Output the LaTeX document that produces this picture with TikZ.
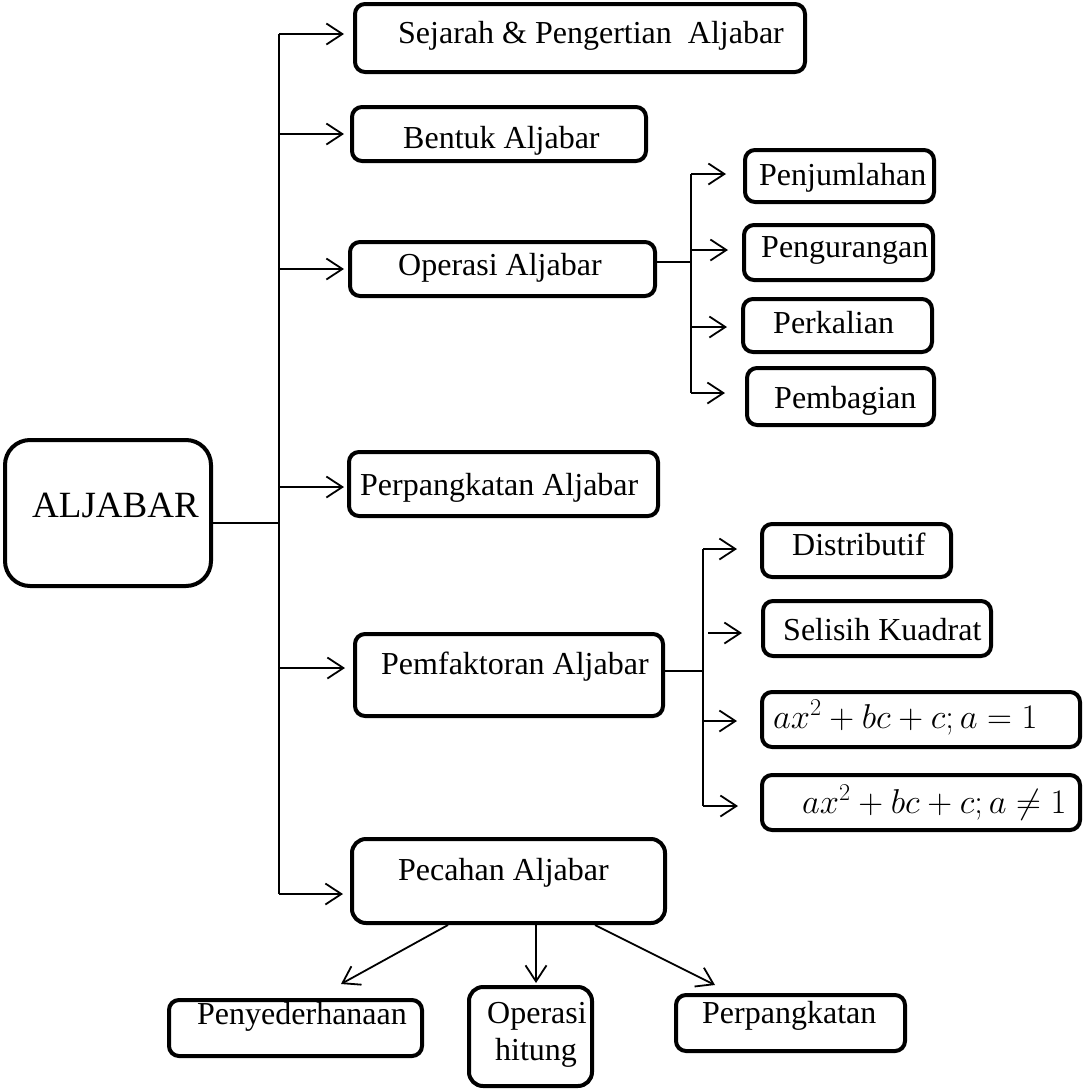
\RequirePackage{fix-cm}
\documentclass[tikz,border=0pt]{standalone}
\usepackage{fontspec}
\setmainfont{Liberation Serif}
\usetikzlibrary{arrows.meta}
\begin{document}
\begin{tikzpicture}[x=1pt,y=-1pt,
  box/.style={draw, line width=4pt, rounded corners=10pt, inner sep=0pt},
  txt/.style={anchor=base west, inner sep=0pt, font=\fontsize{32}{38}\selectfont},
  mtxt/.style={anchor=base west, inner sep=0pt, font=\fontsize{34.5}{40}\selectfont},
  con/.style={line width=1.8pt},
  arr/.style={line width=1.8pt, -{Straight Barb[length=16pt,width=21pt]}}]
\useasboundingbox (0,0) rectangle (1084,1090);
% boxes
\node[box, rounded corners=25pt, minimum width=206pt, minimum height=146pt] (alj) at (108,513) {};
\node[box, minimum width=450pt, minimum height=68pt] (sej) at (580,38) {};
\node[box, minimum width=294pt, minimum height=54pt] (ben) at (499,134) {};
\node[box, minimum width=305pt, minimum height=54pt] (ope) at (502.5,269) {};
\node[box, minimum width=309pt, minimum height=64pt] (ppa) at (503.5,484) {};
\node[box, minimum width=308pt, minimum height=82pt] (pem) at (509,675) {};
\node[box, rounded corners=14pt, minimum width=313pt, minimum height=84pt] (pec) at (508.5,881) {};
\node[box, minimum width=189pt, minimum height=52pt] (pju) at (839.5,176) {};
\node[box, minimum width=189pt, minimum height=55pt] (pku) at (838.5,252.5) {};
\node[box, minimum width=189pt, minimum height=53pt] (pka) at (837.5,325.5) {};
\node[box, minimum width=187pt, minimum height=57pt] (pbg) at (840.5,396.5) {};
\node[box, minimum width=189pt, minimum height=53pt] (dis) at (856.5,550.5) {};
\node[box, minimum width=228pt, minimum height=55pt] (sel) at (877,628.5) {};
\node[box, minimum width=318pt, minimum height=55pt] (ma1) at (921,719.5) {};
\node[box, minimum width=318pt, minimum height=55pt] (ma2) at (921,802.5) {};
\node[box, minimum width=253pt, minimum height=56pt] (pny) at (295.5,1028) {};
\node[box, rounded corners=14pt, minimum width=123pt, minimum height=99pt] (oph) at (530.5,1036.5) {};
\node[box, minimum width=229pt, minimum height=56pt] (ppk) at (790.5,1023) {};
% texts
\node[txt, font=\fontsize{37}{44}\selectfont] (talj) at (32,517) {ALJABAR};
\node[txt] (tsej) at (398,43) {Sejarah \& Pengertian\ \ Aljabar};
\node[txt] (tben) at (403,148) {Bentuk Aljabar};
\node[txt] (tope) at (398,275) {Operasi Aljabar};
\node[txt] (tppa) at (360,495) {Perpangkatan Aljabar};
\node[txt] (tpem) at (381,674) {Pemfaktoran Aljabar};
\node[txt] (tpec) at (398,880) {Pecahan Aljabar};
\node[txt] (tpju) at (759,185) {Penjumlahan};
\node[txt] (tpku) at (761,257) {Pengurangan};
\node[txt] (tpka) at (773,333) {Perkalian};
\node[txt] (tpbg) at (774,408) {Pembagian};
\node[txt] (tdis) at (792,555) {Distributif};
\node[txt] (tsel) at (783,640) {Selisih Kuadrat};
\node[mtxt] (tma1) at (773,728) {$ax^2+bc+c;a=1$};
\node[mtxt] (tma2) at (802,813) {$ax^2+bc+c;a\neq1$};
\node[txt] (tpny) at (197,1024) {Penyederhanaan};
\node[txt] (toph1) at (487,1023) {Operasi};
\node[txt] (toph2) at (495,1060) {hitung};
\node[txt] (tppk) at (702,1023) {Perpangkatan};
% trunk
\coordinate (t1) at (279,34);
\coordinate (t2) at (279,134);
\coordinate (t3) at (279,269);
\coordinate (t4) at (279,487);
\coordinate (t5) at (279,668);
\coordinate (t6) at (279,894);
\coordinate (tj) at (279,523);
\draw[con] (t1) -- (t6);
\draw[con] ([yshift=-10pt]alj.east) -- (tj);
\draw[arr, shorten >=9pt] (t1) -- (t1 -| sej.west);
\draw[arr, shorten >=6pt] (t2) -- (t2 -| ben.west);
\draw[arr, shorten >=4pt] (t3) -- (t3 -| ope.west);
\draw[arr, shorten >=3pt] (t4) -- (t4 -| ppa.west);
\draw[arr, shorten >=8pt] (t5) -- (t5 -| pem.west);
\draw[arr, shorten >=7pt] (t6) -- (t6 -| pec.west);
% operasi sub-trunk
\coordinate (u1) at (691,174);
\coordinate (u2) at (691,250);
\coordinate (u3) at (691,327);
\coordinate (u4) at (691,393);
\coordinate (uj) at (691,262);
\draw[con] (u1) -- (u4);
\draw[con] ([yshift=7pt]ope.east) -- (uj);
\draw[arr, shorten >=17pt] (u1) -- (u1 -| pju.west);
\draw[arr, shorten >=14pt] (u2) -- (u2 -| pku.west);
\draw[arr, shorten >=14pt] (u3) -- (u3 -| pka.west);
\draw[arr, shorten >=20pt] (u4) -- (u4 -| pbg.west);
% pemfaktoran sub-trunk
\coordinate (v1) at (703,549);
\coordinate (v2) at (708,633);
\coordinate (v3) at (703,721);
\coordinate (v4) at (703,806);
\coordinate (vj) at (703,671);
\draw[con] (v1) -- (v4);
\draw[con] ([yshift=4pt]pem.east) -- (vj);
\draw[arr, shorten >=23pt] (v1) -- (v1 -| dis.west);
\draw[arr, shorten >=19pt] (v2) -- (v2 -| sel.west);
\draw[arr, shorten >=23pt] (v3) -- (v3 -| ma1.west);
\draw[arr, shorten >=22pt] (v4) -- (v4 -| ma2.west);
% pecahan children
\draw[arr] ([xshift=-60.5pt]pec.south) -- ([xshift=45.5pt,yshift=14pt]pny.north);
\draw[arr, shorten >=2pt] ([xshift=27.5pt]pec.south) -- ([xshift=27.5pt]pec.south |- oph.north);
\draw[arr] ([xshift=86.5pt]pec.south) -- ([xshift=-75.5pt,yshift=8pt]ppk.north);
\end{tikzpicture}
\end{document}
